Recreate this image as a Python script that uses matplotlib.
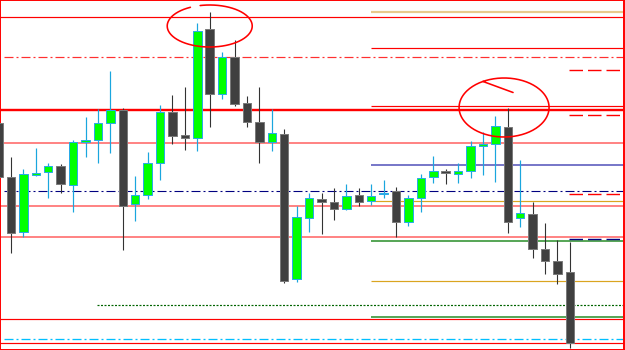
import numpy as np
import matplotlib
matplotlib.use("Agg")
import matplotlib.pyplot as plt

plt.rcParams['lines.scale_dashes'] = False

# ---- OHLC data (price units, chart window 0..350) ----
opens  = [227,173,118,175,178,184,165,208,210,227,240,146,155,187,238,215,212,321,256,293,
          247,228,208,216,71,132,151,148,141,155,149,156,159,128,152,173,179,176,179,204,
          206,223,132,136,101,89,78]
highs  = [227,193,181,202,187,186,210,233,241,279,242,174,198,245,255,263,327,338,298,310,
          254,263,241,221,144,157,157,162,166,162,166,170,163,155,176,194,181,187,209,218,
          234,242,190,148,127,110,108]
lows   = [173,97,113,174,152,157,138,193,187,197,100,129,151,170,206,200,199,223,251,244,
          223,187,199,67,68,118,116,130,140,144,145,152,113,124,138,167,166,167,172,175,
          168,117,123,92,76,66,2]
closes = [173,117,176,177,184,166,208,210,227,240,144,155,187,238,214,212,319,256,293,246,
          228,208,217,69,133,152,148,141,154,148,154,157,128,152,172,179,177,179,204,206,
          224,128,137,101,89,76,7]

# ---- horizontal levels ----
red_full_levels = [333, 31.5, 7]
red_thick_levels = [240]
salmon_levels = [207, 144, 113]
right_red_levels = [302, 244]
right_tan_levels = [338]
right_blue_levels = [185]
right_gold_levels = [149, 69]
right_green_levels = [109, 33]
dashdot_red_levels = [293]
dashdot_navy_levels = [159]
dashdot_cyan_levels = [11]
short_red_levels = [280, 235, 156]
short_navy_levels = [111]
dotted_green_levels = [45]

right_start = 30.0      # bar index where right-side levels begin
short_start, short_end = 45.93, 50.03
dotted_start = 7.92

PX = 12.42  # pixels per bar
X0, X1 = 1 - 11 / PX, 1 + 612.5 / PX

fig = plt.figure(figsize=(6.25, 3.5), dpi=100)
ax = fig.add_axes([0, 0, 623.5 / 625, 1])
ax.set_xlim(X0, X1)
ax.set_ylim(0, 350)
ax.set_xticks([])
ax.set_yticks([])
for s in ax.spines.values():
    s.set_color('#FF0000')
    s.set_linewidth(1.4)

pt = 0.72  # one pixel in points
dashdot = (0, (9 * pt, 3 * pt, 2 * pt, 3 * pt))
shortdash = (0, (13.5 * pt, 5 * pt))
dotted = (0, (2 * pt, 1.5 * pt))

for y in red_full_levels:
    ax.axhline(y, color='#FF0000', lw=1.2 * pt, zorder=1)
for y in red_thick_levels:
    ax.axhline(y, color='#FF0000', lw=2.4 * pt, zorder=1)
for y in salmon_levels:
    ax.axhline(y, color='#FF8585', lw=2.0 * pt, zorder=1)
for y in right_red_levels:
    ax.hlines(y, right_start, X1, color='#FF0000', lw=1.2 * pt, zorder=1)
for y in right_tan_levels:
    ax.hlines(y, right_start, X1, color='#E8C98B', lw=2.2 * pt, zorder=1)
for y in right_blue_levels:
    ax.hlines(y, right_start, X1, color='#6A6AC4', lw=1.8 * pt, zorder=1)
for y in right_gold_levels:
    ax.hlines(y, right_start, X1, color='#DAA520', lw=1.2 * pt, zorder=1)
for y in right_green_levels:
    ax.hlines(y, right_start, X1, color='#228B22', lw=1.5 * pt, zorder=1)
for y in dashdot_red_levels:
    ax.hlines(y, X0 + 4 / PX, X1, color='#FF3030', lw=1.2 * pt, linestyles=[dashdot], zorder=1)
for y in dashdot_navy_levels:
    ax.hlines(y, X0 + 4 / PX, X1, color='#000080', lw=1.1 * pt, linestyles=[dashdot], zorder=1)
for y in dashdot_cyan_levels:
    ax.hlines(y, X0 + 4 / PX, X1, color='#00BFFF', lw=1.3 * pt, linestyles=[dashdot], zorder=1)
for y in short_red_levels:
    ax.hlines(y, short_start, short_end, color='#FF0000', lw=1.4 * pt, linestyles=[shortdash], zorder=1)
for y in short_navy_levels:
    ax.hlines(y, short_start, short_end, color='#000080', lw=1.4 * pt, linestyles=[shortdash], zorder=1)
for y in dotted_green_levels:
    ax.hlines(y, dotted_start, X1, color='#006400', lw=1.2 * pt, linestyles=[dotted], zorder=1)

# ---- candles ----
x = np.arange(len(opens))
o = np.array(opens, float); c = np.array(closes, float)
h = np.array(highs, float); l = np.array(lows, float)
bull = c >= o
bottom = np.minimum(o, c)
height = np.maximum(np.abs(c - o), 1.5)

ax.vlines(x[bull], l[bull], h[bull], color='#1AA6DE', lw=1.2 * pt, zorder=2)
ax.vlines(x[~bull], l[~bull], h[~bull], color='#333333', lw=1.1 * pt, zorder=2)
ax.bar(x[bull], height[bull], bottom=bottom[bull], width=0.68, color='#00FF00',
       edgecolor='#2AAAE6', linewidth=1.0 * pt, zorder=3)
ax.bar(x[~bull], height[~bull], bottom=bottom[~bull], width=0.68, color='#404040',
       edgecolor='#7A7A7A', linewidth=1.0 * pt, zorder=3)

# ---- hand-drawn highlight loops ----
def loop(cx, cy, rx_px, ry_px, a0, a1, tail=None):
    t = np.radians(np.linspace(a0, a1, 200))
    xs = cx + rx_px / PX * np.cos(t)
    ys = cy + ry_px * np.sin(t)
    if tail is not None:
        xs = np.concatenate([[cx + tail[0] / PX], xs])
        ys = np.concatenate([[cy + tail[1]], ys])
    ax.plot(xs, ys, color='#FF0000', lw=1.6 * pt, zorder=5, solid_capstyle='round')

loop(17, highs[17] - 14, 42.5, 21, 117, 463)
loop(40.7, highs[41] + 0.5, 45, 29.5, 118, 478, tail=(9, 15))

fig.savefig('out.png', dpi=100)
